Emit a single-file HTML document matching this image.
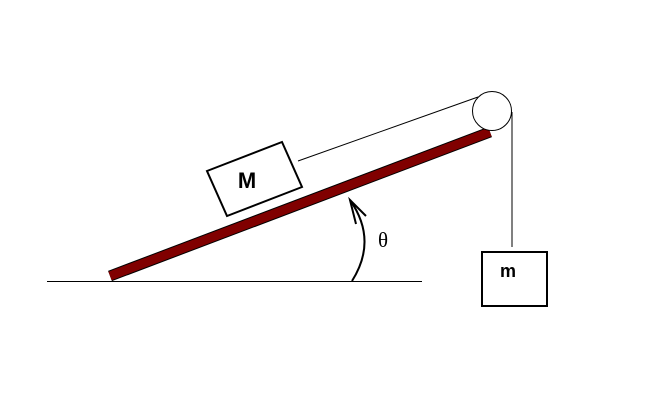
<!DOCTYPE html>
<html><head><style>html,body{margin:0;padding:0;background:#fff}</style></head>
<body>
<svg width="659" height="404" viewBox="0 0 659 404" xmlns="http://www.w3.org/2000/svg">
<line x1="47" y1="281.5" x2="422" y2="281.5" stroke="#000" stroke-width="1"/>
<line x1="110" y1="276" x2="490" y2="132" stroke="#000" stroke-width="11"/>
<line x1="110" y1="276" x2="490" y2="132" stroke="#800000" stroke-width="9"/>
<circle cx="492" cy="111" r="19.5" fill="#fff" stroke="#000" stroke-width="1"/>
<line x1="298" y1="161" x2="478" y2="97" stroke="#000" stroke-width="1"/>
<line x1="512" y1="112" x2="512" y2="247" stroke="#000" stroke-width="1"/>
<polygon points="207,171 282,142 302,187 227,216" fill="#fff" stroke="#000" stroke-width="2"/>
<text x="247" y="188" font-family="Liberation Sans, sans-serif" font-weight="bold" font-size="22" text-anchor="middle">M</text>
<rect x="482" y="252" width="65" height="54" fill="#fff" stroke="#000" stroke-width="2"/>
<text x="508" y="277" font-family="Liberation Sans, sans-serif" font-weight="bold" font-size="18" text-anchor="middle">m</text>
<path d="M352,281 Q378,240 350,200" fill="none" stroke="#000" stroke-width="2"/>
<path d="M356,224 L350,200 L366,216" fill="none" stroke="#000" stroke-width="2"/>
<text x="383" y="247" font-family="Liberation Serif, serif" font-size="21" text-anchor="middle">θ</text>
</svg>
</body></html>
